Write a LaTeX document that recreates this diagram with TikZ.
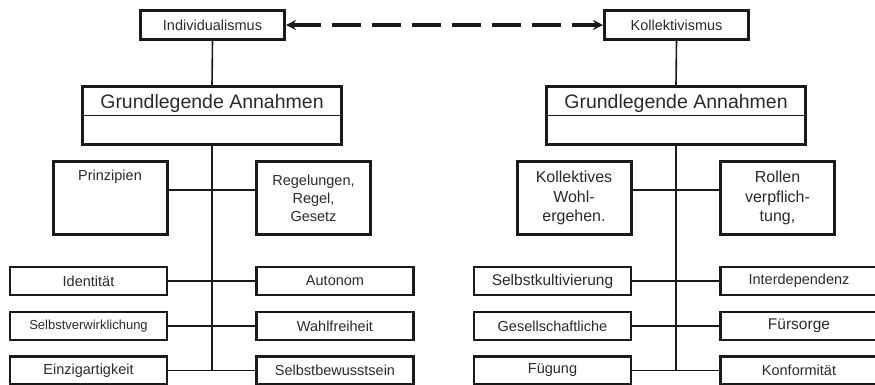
\documentclass[tikz,border=0pt]{standalone}
\usepackage{fontspec}
\setmainfont{Liberation Sans}
\usepackage{tikz}
\usetikzlibrary{arrows.meta,positioning}
\definecolor{framecolor}{HTML}{1A1A1A}
\definecolor{labelcolor}{HTML}{2A2A2A}
\tikzset{
  dg top/.style={draw=framecolor,line width=3pt,minimum width=144pt,minimum height=29pt,inner sep=0pt,text=labelcolor,font=\fontsize{14.5}{18}\selectfont},
  dg main/.style={draw=framecolor,line width=3pt,minimum width=259pt,minimum height=58pt,inner sep=0pt},
  dg title/.style={text=labelcolor,inner sep=3pt,font=\fontsize{19.5}{23}\selectfont},
  dg sub/.style={draw=framecolor,line width=3pt,minimum width=114pt,minimum height=73pt,inner sep=0pt,align=center,text=labelcolor,font=\fontsize{14.5}{18}\selectfont},
  dg subtext/.style={text=labelcolor,inner sep=0pt,font=\fontsize{14.5}{18}\selectfont},
  dg leaf/.style={draw=framecolor,line width=2.2pt,minimum width=157pt,minimum height=28pt,inner sep=0pt,text=labelcolor,font=\fontsize{14.5}{18}\selectfont},
  dg link/.style={draw=framecolor,line width=1.6pt},
  dg rule/.style={draw=framecolor,line width=1.2pt},
  dg dash/.style={draw=framecolor,line width=3.4pt,dash pattern=on 29pt off 11pt,{Stealth[length=10pt,width=10pt]}-{Stealth[length=10pt,width=10pt]}}
}

\begin{document}
\begin{tikzpicture}[x=1pt,y=-1pt]
  \useasboundingbox (0,0) rectangle (875,384);
  \clip (0,0) rectangle (875,384);
  % Individualismus
  \node[dg top] (ind) at (212.5,25) {Individualismus};
  \node[dg main] (gaL) at (212,115.5) {};
  \draw[dg rule] (gaL.west) -- (gaL.east);
  \node[dg title,anchor=south] (gaLt) at (gaL.center) {Grundlegende Annahmen};
  \node[dg sub] (pri) at (110,198) {};
  \node[dg subtext,below=10pt of pri.north] (prit) {Prinzipien};
  \node[dg sub] (reg) at (313.5,198) {Regelungen,\\Regel,\\Gesetz};
  \node[dg leaf] (idt) at (88.5,281) {Identität};
  \node[dg leaf] (aut) at (335,281) {Autonom};
  \node[dg leaf,font=\fontsize{13}{16}\selectfont] (svw) at (88.5,326) {Selbstverwirklichung};
  \node[dg leaf] (wah) at (335,326) {Wahlfreiheit};
  \node[dg leaf] (ein) at (88.5,370.5) {Einzigartigkeit};
  \node[dg leaf] (sbw) at (335,370.5) {Selbstbewusstsein};
  \coordinate (endL) at (gaL.south |- ein.east);
  \draw[dg link] (ind.south) -- (gaL.north);
  \draw[dg link] (gaL.south) -- (endL);
  \draw[dg link] (pri.8) -- (reg.172);
  \draw[dg link] (idt.east) -- (aut.west);
  \draw[dg link] (svw.east) -- (wah.west);
  \draw[dg link] (ein.east) -- (sbw.west);
  % Kollektivismus
  \begin{scope}[xshift=464pt]
    \node[dg top] (kol) at (212.5,25) {Kollektivismus};
    \node[dg main] (gaR) at (212,115.5) {};
    \draw[dg rule] (gaR.west) -- (gaR.east);
    \node[dg title,anchor=south] (gaRt) at (gaR.center) {Grundlegende Annahmen};
    \node[dg sub,font=\fontsize{16}{19.5}\selectfont] (kwo) at (110,198) {Kollektives\\Wohl-\\ergehen.};
    \node[dg sub,font=\fontsize{16}{19.5}\selectfont] (rol) at (313.5,198) {Rollen\\verpflich-\\tung,};
    \node[dg leaf,font=\fontsize{15.5}{18}\selectfont] (skv) at (88.5,281) {Selbstkultivierung};
    \node[dg leaf] (itd) at (335,281) {Interdependenz};
    \node[dg leaf] (ges) at (88.5,326) {Gesellschaftliche};
    \node[dg leaf,font=\fontsize{15.5}{18}\selectfont] (fue) at (335,326) {Fürsorge};
    \node[dg leaf] (fug) at (88.5,370.5) {Fügung};
    \node[dg leaf] (kon) at (335,370.5) {Konformität};
    \coordinate (endR) at (gaR.south |- fug.east);
    \draw[dg link] (kol.south) -- (gaR.north);
    \draw[dg link] (gaR.south) -- (endR);
    \draw[dg link] (kwo.8) -- (rol.172);
    \draw[dg link] (skv.east) -- (itd.west);
    \draw[dg link] (ges.east) -- (fue.west);
    \draw[dg link] (fug.east) -- (kon.west);
  \end{scope}
  \draw[dg dash] (ind.east) -- (kol.west);
\end{tikzpicture}
\end{document}
